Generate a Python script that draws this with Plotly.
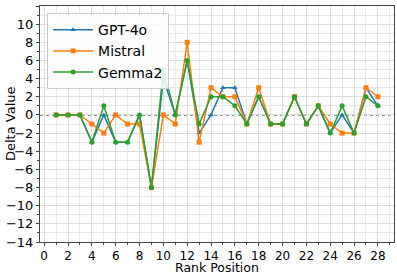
import plotly.graph_objects as go

rank = list(range(1, 29))
gpt4o = [0, 0, 0, -3, 0, -3, -3, 0, -8, 4, 0, 6, -2, 0, 3, 3, -1, 2, -1, -1, 2, -1, 1, -2, 0, -2, 3, 1]
mistral = [0, 0, 0, -1, -2, 0, -1, -1, -8, 0, -1, 8, -3, 3, 2, 2, -1, 3, -1, -1, 2, -1, 1, -1, -2, -2, 3, 2]
gemma2 = [0, 0, 0, -3, 1, -3, -3, 0, -8, 5, 0, 6, -1, 2, 2, 1, -1, 2, -1, -1, 2, -1, 1, -2, 1, -2, 2, 1]

series = [
    ("GPT-4o", gpt4o, "#1f77b4", "triangle-up"),
    ("Mistral", mistral, "#ff7f0e", "square"),
    ("Gemma2", gemma2, "#2ca02c", "circle"),
]

fig = go.Figure()
for name, vals, color, sym in series:
    fig.add_trace(go.Scatter(
        x=rank, y=vals, name=name, mode="lines+markers",
        line=dict(color=color, width=1.5),
        marker=dict(symbol=sym, size=5, color=color),
    ))

fig.add_hline(y=0, line=dict(color="black", width=1, dash="dot"), layer="below")

font = "DejaVu Sans, Arial, sans-serif"
axis_common = dict(
    showline=True, mirror=True, linecolor="#444", linewidth=1,
    ticks="outside", ticklen=3, tickcolor="#444",
    showgrid=True, gridcolor="#dddddd", gridwidth=1,
    zeroline=False, automargin=False,
)
fig.update_xaxes(
    range=[-0.35, 29.35], dtick=2, tick0=0,
    tickfont=dict(size=12, color="black", family=font),
    minor=dict(dtick=1, ticks="outside", ticklen=2, tickcolor="#444",
               showgrid=True, gridcolor="#e8e8e8"),
    **axis_common,
)
fig.update_yaxes(
    range=[-14, 12], dtick=2, tick0=0,
    tickfont=dict(size=13, color="black", family=font),
    minor=dict(dtick=1, ticks="outside", ticklen=2, tickcolor="#444",
               showgrid=True, gridcolor="#e8e8e8"),
    **axis_common,
)
fig.add_annotation(text="Rank Position", xref="paper", yref="paper", x=0.5, y=0,
                   yshift=-25, xanchor="center", yanchor="middle", showarrow=False,
                   font=dict(size=12.5, family=font, color="black"))
fig.add_annotation(text="Delta Value", xref="paper", yref="paper", x=0, y=0.5,
                   xshift=-30, xanchor="center", yanchor="middle", textangle=-90,
                   showarrow=False, font=dict(size=13, family=font, color="black"))
fig.update_layout(
    width=397, height=274,
    margin=dict(l=40, r=3, t=6, b=32),
    plot_bgcolor="white", paper_bgcolor="white",
    font=dict(family=font, size=13, color="black"),
    legend=dict(
        x=0.02, y=0.97, xanchor="left", yanchor="top",
        bgcolor="rgba(255,255,255,0.85)", bordercolor="#cccccc", borderwidth=1,
        font=dict(size=14, family=font), itemwidth=40, tracegroupgap=0,
    ),
)
fig.write_html("out.html", config={"displayModeBar": False},
               post_script="document.body.style.margin='0';document.body.style.overflow='hidden';")
